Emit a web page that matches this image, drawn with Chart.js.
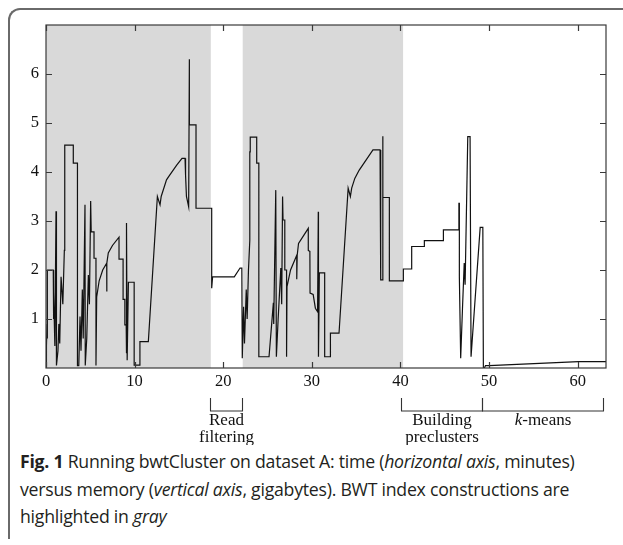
<!DOCTYPE html>
<html>
<head>
<meta charset="utf-8">
<script src="https://cdn.jsdelivr.net/npm/chart.js@4.4.1/dist/chart.umd.min.js"></script>
<style>
  html, body { margin: 0; padding: 0; background: #ffffff; width: 623px; height: 545px; overflow: hidden; }
  #card { position: absolute; left: 8px; top: 8px; width: 640px; height: 529px;
          border-top: 2px solid #6a6a6a; border-left: 2px solid #6a6a6a; border-top-left-radius: 12px; }
  #chartWrap { position: absolute; left: 0; top: 0; width: 623px; height: 445px; }
  #caption { position: absolute; left: 20px; top: 448px; font-family: "Open Sans", "Noto Sans", sans-serif;
             font-size: 17.7px; line-height: 27.5px; color: #231f20; white-space: nowrap; letter-spacing: -0.25px; }
  #caption b { font-weight: 700; }
</style>
</head>
<body>
<div id="card"></div>
<div id="chartWrap"><canvas id="c" width="623" height="445"></canvas></div>
<div id="caption"><b>Fig. 1</b> Running bwtCluster on dataset A: time (<i>horizontal axis</i>, minutes)<br>versus memory (<i>vertical axis</i>, gigabytes). BWT index constructions are<br>highlighted in <i>gray</i></div>
<script>
// ---- data ----
const timeMin = [0,0.05,0.12,0.15,0.15,0.82,0.82,0.9,1.0,1.13,1.18,1.35,1.45,1.55,1.7,1.9,2.07,2.07,2.14,2.14,3.08,3.08,3.55,3.55,3.7,3.84,3.95,4.1,4.2,4.4,4.43,4.6,4.78,4.9,5.04,5.1,5.42,5.42,5.64,5.64,5.72,6.0,6.4,6.85,6.85,6.88,7.03,7.5,8.24,8.24,8.7,8.7,8.9,8.9,9.05,9.05,9.12,9.16,9.3,9.95,9.95,10.6,10.6,11.55,12.57,12.87,13.0,13.6,13.9,14.75,15.35,15.69,15.75,15.85,16.1,16.18,16.18,16.93,16.93,18.7,18.7,18.8,21.25,21.9,22.1,22.15,22.3,22.4,22.6,22.7,22.85,23.0,23.0,23.05,23.05,23.78,23.78,24.02,24.02,25.17,25.66,25.7,25.93,26.0,26.2,26.5,26.6,26.7,26.75,26.95,26.95,27.15,27.15,27.2,27.6,28.3,28.3,28.35,28.5,29.6,29.6,29.78,29.8,30.15,30.4,30.65,30.73,30.75,30.85,31.45,31.45,32.1,32.1,33.07,34.1,34.35,34.5,34.85,35.35,36.9,37.7,37.72,37.8,37.8,38.0,38.0,38.03,38.75,38.75,40.33,40.33,41.27,41.27,42.7,42.7,44.85,44.85,46.6,46.6,46.65,46.65,46.8,47.0,47.2,47.3,47.6,47.86,47.97,49.0,49.3,49.36,49.5,49.6,50.0,60.1,63.2];
const memoryGB = [0.05,0.45,0.9,0.6,2.0,2.0,1.0,1.55,0.45,3.2,0.05,0.35,0.9,0.5,1.86,1.3,2.4,4.05,4.05,4.55,4.55,4.18,4.18,0.05,0.05,1.05,0.35,1.6,0.6,3.33,0.05,0.6,1.9,1.3,3.41,2.78,2.78,2.24,2.24,0.05,1.45,1.78,2.0,2.14,1.56,2.14,2.35,2.5,2.67,2.22,2.22,1.4,1.4,0.88,0.88,0.3,2.96,0.16,1.75,1.75,0.06,0.06,0.54,0.54,3.5,3.33,3.5,3.84,3.92,4.14,4.28,4.28,3.94,3.5,3.29,6.3,4.96,4.96,3.26,3.26,1.63,1.86,1.86,2.04,2.04,0.2,1.25,0.5,1.6,1.0,2.0,2.6,4.41,4.41,4.71,4.71,4.18,4.18,0.23,0.23,1.33,0.9,3.63,0.23,1.0,2.04,1.3,3.5,3.02,3.02,2.0,2.0,0.23,1.66,2.0,2.3,1.81,2.3,2.54,2.85,2.4,2.38,1.53,1.5,1.22,1.15,3.19,0.23,1.94,1.94,0.23,0.23,0.71,0.71,3.67,3.5,3.67,3.87,4.04,4.45,4.45,3.97,3.97,1.8,1.8,4.73,3.48,3.48,1.78,1.78,2.02,2.02,2.48,2.48,2.6,2.6,2.82,2.82,3.36,3.36,1.86,0.2,1.2,2.14,1.7,4.72,4.72,0.23,2.87,2.87,0.01,0.01,0.05,0.05,0.13,0.13];
const bwtStart = [0, 22.2];
const bwtEnd   = [18.6, 40.3];
const phaseStart = [18.5, 40.1, 49.25];
const phaseEnd   = [22.1, 49.15, 62.85];
const phaseLabels = [["Read", "filtering"], ["Building", "preclusters"], ["k-means"]];
const xTicks = [0, 10, 20, 30, 40, 50, 60];
const yTicks = [1, 2, 3, 4, 5, 6];
const xMax = 63.2, yMax = 7;

const points = timeMin.map((t, i) => ({ x: t, y: memoryGB[i] }));

const FRAME = '#3a3a3a';
const SERIF = '"Liberation Serif", "DejaVu Serif", serif';
const LBL = 17;

const shadePlugin = {
  id: 'shade',
  beforeDatasetsDraw(chart) {
    const { ctx, chartArea: a, scales: { x } } = chart;
    ctx.save();
    ctx.fillStyle = '#d9d9d9';
    for (let i = 0; i < bwtStart.length; i++) {
      const x1 = x.getPixelForValue(bwtStart[i]);
      const x2 = x.getPixelForValue(bwtEnd[i]);
      ctx.fillRect(x1, a.top, x2 - x1, a.bottom - a.top);
    }
    ctx.restore();
  }
};

const framePlugin = {
  id: 'frame',
  afterDraw(chart) {
    const { ctx, chartArea: a, scales: { x, y } } = chart;
    ctx.save();
    ctx.strokeStyle = FRAME;
    ctx.lineWidth = 1.2;
    ctx.strokeRect(a.left, a.top, a.right - a.left, a.bottom - a.top);
    ctx.beginPath();
    const tl = 6;
    xTicks.forEach(v => {
      const px = Math.round(x.getPixelForValue(v)) + 0.5;
      ctx.moveTo(px, a.bottom); ctx.lineTo(px, a.bottom - tl);
      ctx.moveTo(px, a.top); ctx.lineTo(px, a.top + tl);
    });
    yTicks.forEach(v => {
      const py = Math.round(y.getPixelForValue(v)) + 0.5;
      ctx.moveTo(a.left, py); ctx.lineTo(a.left + tl, py);
      ctx.moveTo(a.right, py); ctx.lineTo(a.right - tl, py);
    });
    ctx.stroke();

    // phase brackets under the x axis
    ctx.lineWidth = 1.1;
    ctx.strokeStyle = '#333';
    ctx.fillStyle = '#111';
    ctx.textAlign = 'center';
    ctx.textBaseline = 'middle';
    const yTop = a.bottom + 30, yBar = a.bottom + 43;
    for (let i = 0; i < phaseStart.length; i++) {
      const x1 = Math.round(x.getPixelForValue(phaseStart[i])) + 0.5;
      const x2 = Math.round(x.getPixelForValue(phaseEnd[i])) + 0.5;
      ctx.beginPath();
      ctx.moveTo(x1, yTop); ctx.lineTo(x1, yBar); ctx.lineTo(x2, yBar); ctx.lineTo(x2, yTop);
      ctx.stroke();
      const cx = (x1 + x2) / 2;
      phaseLabels[i].forEach((line, j) => {
        const ly = a.bottom + 53 + j * 17;
        if (line === 'k-means') {
          ctx.font = 'italic ' + LBL + 'px ' + SERIF;
          const wk = ctx.measureText('k').width;
          ctx.font = LBL + 'px ' + SERIF;
          const wr = ctx.measureText('-means').width;
          const start = cx - (wk + wr) / 2;
          ctx.textAlign = 'left';
          ctx.font = 'italic ' + LBL + 'px ' + SERIF;
          ctx.fillText('k', start, ly);
          ctx.font = LBL + 'px ' + SERIF;
          ctx.fillText('-means', start + wk, ly);
          ctx.textAlign = 'center';
        } else {
          ctx.font = LBL + 'px ' + SERIF;
          ctx.fillText(line, cx, ly);
        }
      });
    }
    ctx.restore();
  }
};

new Chart(document.getElementById('c'), {
  type: 'scatter',
  data: {
    datasets: [{
      data: points,
      showLine: true,
      borderColor: '#111',
      borderWidth: 1.2,
      pointRadius: 0,
      tension: 0,
      fill: false
    }]
  },
  options: {
    responsive: false,
    animation: false,
    devicePixelRatio: 1,
    layout: { padding: { left: 0, right: 17, top: 25, bottom: 0 } },
    plugins: { legend: { display: false }, tooltip: { enabled: false } },
    scales: {
      x: {
        type: 'linear', min: 0, max: xMax,
        afterFit(s) { s.height = 77; },
        grid: { display: false, drawTicks: false },
        border: { display: false },
        ticks: {
          stepSize: 10, includeBounds: false, padding: 4, maxRotation: 0,
          color: '#111', font: { family: SERIF, size: 16.5 }
        }
      },
      y: {
        type: 'linear', min: 0, max: yMax,
        afterFit(s) { s.width = 46; },
        grid: { display: false, drawTicks: false },
        border: { display: false },
        ticks: {
          stepSize: 1, padding: 7, color: '#111', font: { family: SERIF, size: 16.5 },
          callback: v => (yTicks.includes(v) ? String(v) : '')
        }
      }
    }
  },
  plugins: [shadePlugin, framePlugin]
});
</script>
</body>
</html>
